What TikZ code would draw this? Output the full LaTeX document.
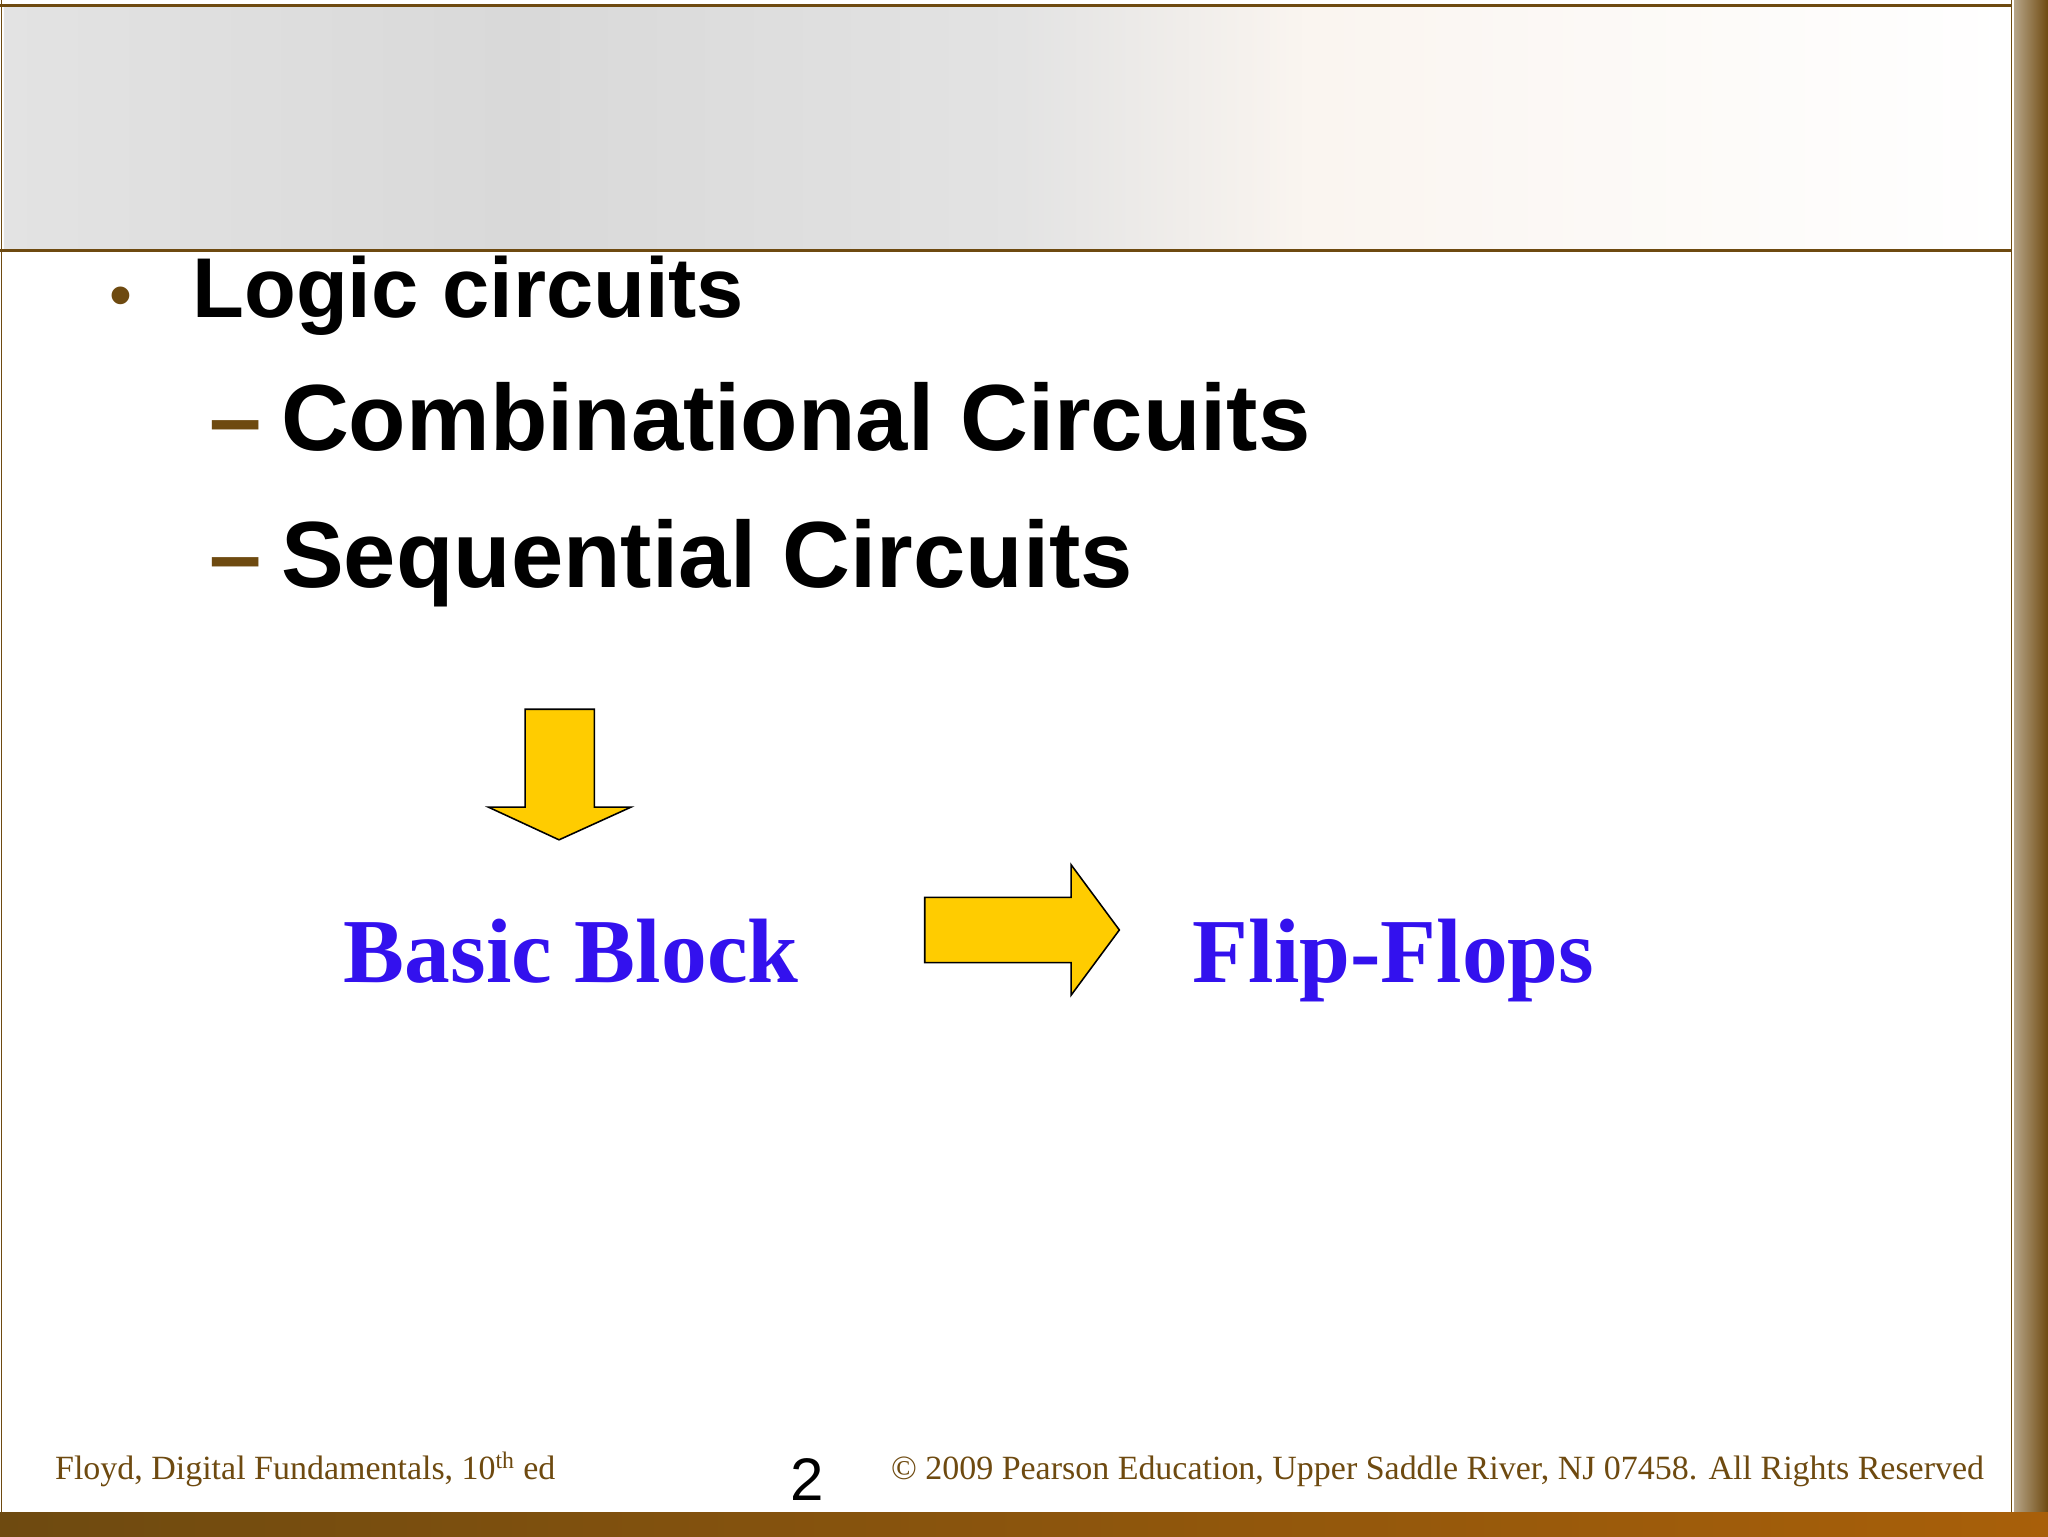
\documentclass[tikz,border=0pt]{standalone}
\usepackage{fontspec}
\setmainfont{Liberation Serif}
\setsansfont{Liberation Sans}
\definecolor{brn}{HTML}{6E4A10}
\definecolor{ylw}{HTML}{FFCC00}
\definecolor{blu}{HTML}{3311EE}
\tikzset{arr/.style={fill=ylw,draw=black,line width=1.2pt,line join=miter},
 big/.style={anchor=base west,inner sep=0pt,font=\sffamily\bfseries\fontsize{72}{76}\selectfont},
 dsh/.style={anchor=base west,inner sep=0pt,text=brn,font=\sffamily\bfseries\fontsize{72}{76}\selectfont},
 blk/.style={anchor=base west,inner sep=0pt,text=blu,font=\bfseries\fontsize{70}{74}\selectfont},
 foot/.style={anchor=base west,inner sep=0pt,text=brn,font=\fontsize{26}{30}\selectfont}}
\begin{document}
\begin{tikzpicture}[x=1pt,y=1pt]
\useasboundingbox (0,0) rectangle (1568,1176);
\fill[white] (0,0) rectangle (1568,1176);
% banner
\shade[left color=gray!22, right color=gray!30] (3,984) rectangle (400,1172);
\shade[left color=gray!30, right color=gray!22] (400,984) rectangle (780,1172);
\shade[left color=gray!22, right color=brown!8!white] (780,984) rectangle (1000,1172);
\shade[left color=brown!8!white, right color=white] (1000,984) rectangle (1540,1172);
\draw[brn,line width=2pt] (0,984) -- (1540,984);
\draw[brn,line width=2pt] (0,1172) -- (1540,1172);
\draw[brn,line width=1pt] (1,0) -- (1,1176);
% right and bottom borders
\shade[left color=brn!50!white,right color=brn] (1542,0) rectangle (1568,1176);
\shade[left color=brn, right color=brn!60!orange] (0,0) rectangle (1568,18);
\draw[brn,line width=1pt] (1540,18) -- (1540,1176);
% texts
\node[anchor=base west,inner sep=0pt,text=brn,font=\sffamily\fontsize{50}{50}\selectfont] (bul) at (84,933) {•};
\node[big,font=\sffamily\bfseries\fontsize{65}{70}\selectfont] (lc) at (147,933) {Logic circuits};
\node[dsh] (d1) at (160,831) {–};
\node[big] (cc) at (215,831) {Combinational Circuits};
\node[dsh] (d2) at (160,726) {–};
\node[big] (sc) at (215,726) {Sequential Circuits};
% arrows
\draw[arr] (402,633) -- (455,633) -- (455,558) -- (483,558) -- (428,533) -- (374,558) -- (402,558) -- cycle;
\draw[arr] (708,489) -- (820,489) -- (820,514) -- (857,464) -- (820,414) -- (820,439) -- (708,439) -- cycle;
\node[blk] (bb) at (263,424) {Basic Block};
\node[blk] (ff) at (913,424) {Flip-Flops};
% footer
\node[foot] (f1) at (42,43) {Floyd, Digital Fundamentals, 10\textsuperscript{th} ed};
\node[anchor=base,inner sep=0pt,font=\sffamily\fontsize{46}{46}\selectfont] (pg) at (618,27) {2};
\node[foot] (f2) at (682,43) {© 2009 Pearson Education, Upper Saddle River, NJ 07458. All Rights Reserved};
\end{tikzpicture}
\end{document}
